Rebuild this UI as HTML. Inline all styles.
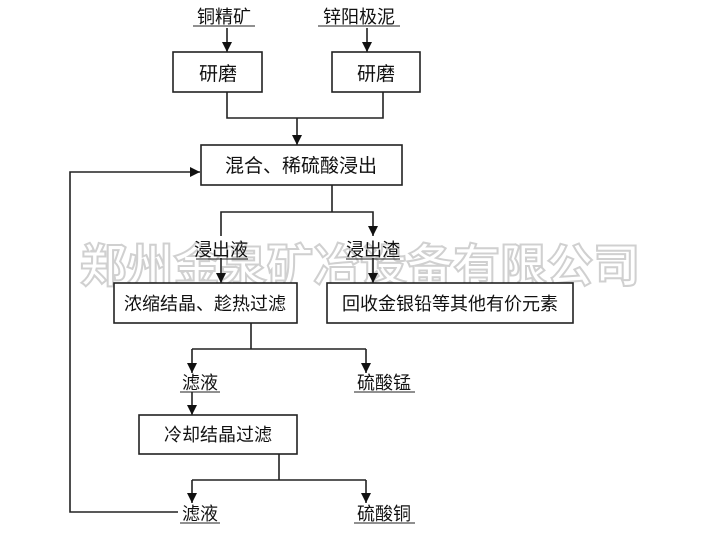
<!DOCTYPE html>
<html><head><meta charset="utf-8"><style>
html,body{margin:0;padding:0;background:#fff;}
svg{display:block}
text{font-family:"Liberation Sans","Noto Sans CJK SC",sans-serif;}
</style></head><body>
<svg width="720" height="540" viewBox="0 0 720 540" xmlns="http://www.w3.org/2000/svg">
<defs><marker id="a" viewBox="0 0 10 10" refX="10" refY="5" markerWidth="10" markerHeight="10" markerUnits="userSpaceOnUse" orient="auto"><path d="M0,0L10,5L0,10z" fill="#111"/></marker></defs>
<text x="80" y="282" font-size="46" font-weight="bold" fill="#fff" stroke="#d0d0d0" stroke-width="2" textLength="560" lengthAdjust="spacingAndGlyphs">郑州金泉矿冶设备有限公司</text>
<g stroke="#222" stroke-width="1.6" fill="none">
<line x1="227" y1="28" x2="227" y2="52" marker-end="url(#a)"/>
<line x1="367" y1="28" x2="367" y2="52" marker-end="url(#a)"/>
<rect x="173" y="52" width="89" height="40" fill="#fff"/>
<rect x="332" y="52" width="88" height="40" fill="#fff"/>
<polyline points="227,92 227,118 383,118 383,92"/>
<line x1="297" y1="118" x2="297" y2="145" marker-end="url(#a)"/>
<rect x="201" y="145" width="201" height="40" fill="#fff"/>
<polyline points="178,512 70,512 70,172 200,172" marker-end="url(#a)"/>
<line x1="332" y1="185" x2="332" y2="212"/>
<polyline points="221,236 221,212 373,212 373,236" marker-end="url(#a)"/>
<line x1="221" y1="258" x2="221" y2="283" marker-end="url(#a)"/>
<line x1="373" y1="258" x2="373" y2="283" marker-end="url(#a)"/>
<rect x="114" y="283" width="183" height="40" fill="#fff"/>
<rect x="327" y="283" width="246" height="40" fill="#fff"/>
<line x1="251" y1="323" x2="251" y2="349"/>
<line x1="192" y1="349" x2="366" y2="349"/>
<line x1="192" y1="349" x2="192" y2="373" marker-end="url(#a)"/>
<line x1="366" y1="349" x2="366" y2="373" marker-end="url(#a)"/>
<line x1="192" y1="392" x2="192" y2="415" marker-end="url(#a)"/>
<rect x="139" y="415" width="158" height="39" fill="#fff"/>
<line x1="279" y1="454" x2="279" y2="480"/>
<line x1="192" y1="480" x2="366" y2="480"/>
<line x1="192" y1="480" x2="192" y2="503" marker-end="url(#a)"/>
<line x1="366" y1="480" x2="366" y2="503" marker-end="url(#a)"/>
</g>
<g font-size="18" fill="#111" text-anchor="middle">
<text x="224" y="23">铜精矿</text>
<text x="359" y="23">锌阳极泥</text>
<text x="218" y="80" font-size="19">研磨</text>
<text x="376" y="80" font-size="19">研磨</text>
<text x="301" y="172" font-size="19">混合、稀硫酸浸出</text>
<text x="221" y="256">浸出液</text>
<text x="373" y="256">浸出渣</text>
<text x="205" y="310">浓缩结晶、趁热过滤</text>
<text x="450" y="310">回收金银铅等其他有价元素</text>
<text x="200" y="389">滤液</text>
<text x="384" y="389">硫酸锰</text>
<text x="218" y="441">冷却结晶过滤</text>
<text x="200" y="520">滤液</text>
<text x="384" y="520">硫酸铜</text>
</g>
<g stroke="#222" stroke-width="1">
<line x1="193" y1="26" x2="255" y2="26"/>
<line x1="318" y1="26" x2="400" y2="26"/>
<line x1="196" y1="259" x2="248" y2="259"/>
<line x1="346" y1="259" x2="400" y2="259"/>
<line x1="180" y1="392" x2="220" y2="392"/>
<line x1="354" y1="392" x2="415" y2="392"/>
<line x1="180" y1="523" x2="220" y2="523"/>
<line x1="354" y1="523" x2="415" y2="523"/>
</g>
</svg>
</body></html>
